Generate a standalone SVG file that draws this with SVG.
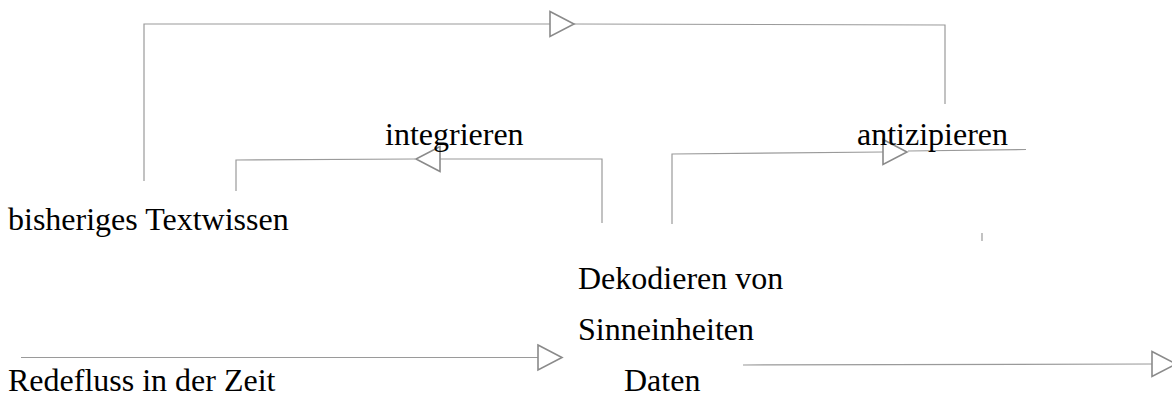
<svg xmlns="http://www.w3.org/2000/svg" xmlns:xlink="http://www.w3.org/1999/xlink" width="1172" height="398" viewBox="0 0 1172 398">
<style>
.ln{fill:none;stroke:#9a9a9a;stroke-width:1.2}
.ah{fill:#fff;stroke:#8a8a8a;stroke-width:1.6;stroke-linejoin:miter}
.t{font-family:"Liberation Serif","Times New Roman",serif;font-size:32px;fill:#000}
</style>
<defs>
<polygon id="tri" class="ah" points="0,-12.5 24,0 0,12.5"/>
</defs>
<rect width="1172" height="398" fill="#fff"/>
<g id="connectors">
<polyline class="ln" points="144,181 144,24 550,24"/>
<polyline class="ln" points="574,24 945,25 945,104"/>
<use xlink:href="#tri" href="#tri" transform="translate(550,24)"/>
<polyline class="ln" points="602,223 602,159 440,159"/>
<polyline class="ln" points="415,159 236,160 236,191"/>
<use xlink:href="#tri" href="#tri" transform="translate(440,159) rotate(180)"/>
<polyline class="ln" points="672,224 672,154 883,152"/>
<polyline class="ln" points="908,151 1026,149.5"/>
<use xlink:href="#tri" href="#tri" transform="translate(883,152)"/>
<line class="ln" x1="982" y1="233" x2="982" y2="241"/>
<line class="ln" x1="21" y1="357.5" x2="538" y2="357.5"/>
<use xlink:href="#tri" href="#tri" transform="translate(538,357.5)"/>
<line class="ln" x1="743" y1="365" x2="1152" y2="364"/>
<use xlink:href="#tri" href="#tri" transform="translate(1152,364)"/>
</g>
<g id="integrieren"><text class="t" x="385" y="145">integrieren</text></g>
<g id="antizipieren"><text class="t" x="857" y="145">antizipieren</text></g>
<g id="textwissen"><text class="t" x="8" y="230">bisheriges Textwissen</text></g>
<g id="dekodieren"><text class="t" x="578" y="289">Dekodieren von</text><text class="t" x="578" y="340">Sinneinheiten</text></g>
<g id="daten"><text class="t" x="624" y="391">Daten</text></g>
<g id="redefluss"><text class="t" x="8" y="391">Redefluss in der Zeit</text></g>
</svg>
